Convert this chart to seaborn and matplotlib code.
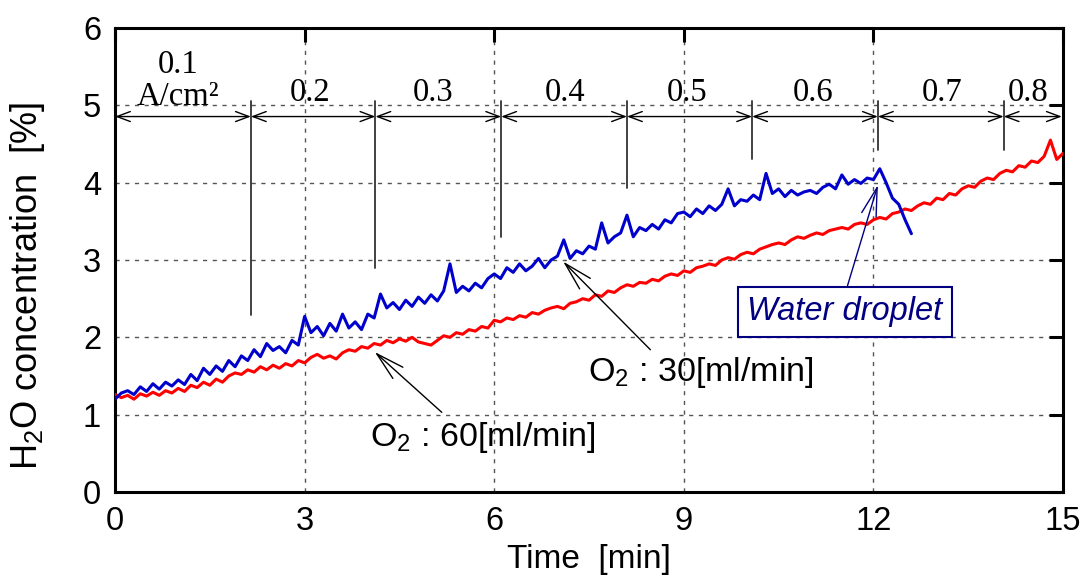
import numpy as np
import pandas as pd
import matplotlib
matplotlib.use("Agg")
import matplotlib.pyplot as plt
import seaborn as sns

o2_30 = [1.20, 1.28, 1.31, 1.26, 1.36, 1.30, 1.40, 1.33, 1.42, 1.37,
         1.45, 1.39, 1.52, 1.44, 1.60, 1.52, 1.63, 1.56, 1.70, 1.62,
         1.76, 1.70, 1.84, 1.75, 1.92, 1.83, 1.88, 1.80, 1.96, 1.90,
         2.27, 2.06, 2.14, 2.02, 2.18, 2.08, 2.30, 2.12, 2.20, 2.10,
         2.30, 2.25, 2.56, 2.38, 2.45, 2.36, 2.48, 2.40, 2.52, 2.44,
         2.55, 2.47, 2.60, 2.95, 2.58, 2.66, 2.60, 2.70, 2.64, 2.76,
         2.82, 2.76, 2.90, 2.84, 2.95, 2.86, 2.92, 3.02, 2.90, 3.00,
         3.05, 3.26, 3.02, 3.12, 3.08, 3.18, 3.14, 3.48, 3.22, 3.30,
         3.35, 3.58, 3.30, 3.42, 3.38, 3.46, 3.40, 3.52, 3.48, 3.60,
         3.62, 3.56, 3.66, 3.60, 3.70, 3.64, 3.72, 3.92, 3.70, 3.78,
         3.76, 3.84, 3.78, 4.12, 3.86, 3.92, 3.82, 3.90, 3.84, 3.88,
         3.90, 3.86, 3.94, 3.98, 3.92, 4.10, 3.98, 4.04, 3.99, 4.06,
         4.04, 4.18, 4.00, 3.80, 3.72, 3.52, 3.34]

o2_60 = [1.26, 1.22, 1.25, 1.20, 1.27, 1.24, 1.29, 1.25, 1.31, 1.28,
         1.34, 1.30, 1.38, 1.35, 1.42, 1.38, 1.46, 1.42, 1.50, 1.54,
         1.52, 1.58, 1.55, 1.62, 1.58, 1.64, 1.60, 1.66, 1.63, 1.70,
         1.67, 1.74, 1.78, 1.73, 1.76, 1.72, 1.80, 1.84, 1.82, 1.88,
         1.86, 1.92, 1.90, 1.96, 1.93, 1.98, 1.95, 2.00, 1.94, 1.92,
         1.90, 1.96, 2.02, 2.00, 2.06, 2.04, 2.10, 2.08, 2.14, 2.12,
         2.22, 2.20, 2.25, 2.23, 2.28, 2.26, 2.32, 2.30, 2.35, 2.38,
         2.40, 2.37, 2.44, 2.46, 2.50, 2.48, 2.55, 2.53, 2.60, 2.58,
         2.64, 2.68, 2.66, 2.71, 2.70, 2.75, 2.73, 2.79, 2.82, 2.80,
         2.86, 2.84, 2.90, 2.92, 2.95, 2.93, 3.00, 3.03, 3.01, 3.07,
         3.10, 3.08, 3.14, 3.17, 3.20, 3.22, 3.20, 3.26, 3.30, 3.28,
         3.32, 3.35, 3.33, 3.38, 3.40, 3.42, 3.40, 3.46, 3.48, 3.46,
         3.52, 3.55, 3.53, 3.60, 3.62, 3.66, 3.64, 3.70, 3.74, 3.72,
         3.80, 3.78, 3.86, 3.84, 3.92, 3.96, 3.94, 4.02, 4.06, 4.04,
         4.12, 4.16, 4.14, 4.22, 4.20, 4.28, 4.26, 4.34, 4.55, 4.30,
         4.38]

# current density steps [A/cm2] and their switching times [min]
step_edges = [0, 2.15, 4.12, 6.11, 8.10, 10.08, 12.07, 14.06, 14.98]
step_labels = ["0.2", "0.3", "0.4", "0.5", "0.6", "0.7", "0.8"]
step_label_x = [3.09, 5.04, 7.12, 9.05, 11.05, 13.08, 14.45]
marker_bottom = [2.29, 2.90, 3.30, 3.93, 4.30, 4.42, 4.42]

t30 = np.round(np.arange(len(o2_30)) * 0.1, 2)
t60 = np.round(np.arange(len(o2_60)) * 0.1, 2)
df30 = pd.DataFrame({"time": t30, "h2o": o2_30})
df60 = pd.DataFrame({"time": t60, "h2o": o2_60})

sns.set_theme(style="white")
plt.rcParams["font.family"] = ["Liberation Sans", "DejaVu Sans"]
plt.rcParams["mathtext.fontset"] = "custom"
plt.rcParams["mathtext.rm"] = "Liberation Sans"
plt.rcParams["mathtext.it"] = "Liberation Sans:italic"
plt.rcParams["axes.labelcolor"] = "black"
plt.rcParams["text.color"] = "black"

fig = plt.figure(figsize=(10.87, 5.81), dpi=100)
ax = fig.add_axes([0.1058, 0.1532, 0.8722, 0.7986])

sns.lineplot(data=df60, x="time", y="h2o", color="#ff0000", lw=2.2, ax=ax, zorder=3)
sns.lineplot(data=df30, x="time", y="h2o", color="#0000cc", lw=2.2, ax=ax, zorder=4)

ax.set_xlim(0, 15)
ax.set_ylim(0, 6)
ax.set_xticks([0, 3, 6, 9, 12, 15])
ax.set_yticks([0, 1, 2, 3, 4, 5, 6])
ax.grid(True, ls=(0, (3, 4)), color="#555555", lw=1)
ax.set_axisbelow(True)
for s in ax.spines.values():
    s.set_linewidth(2.2)
    s.set_color("black")
ax.tick_params(direction="in", length=10, width=2.2, labelsize=23.5,
               top=True, right=True, pad=10, colors="black")

ax.set_xlabel("Time  [min]", fontsize=24, labelpad=5, color="black")
ax.set_ylabel(r"H$_2$O concentration  [%]", fontsize=26, color="black")
ax.yaxis.set_label_coords(-0.072, 0.444)

# current step arrows
y_arr = 4.855
for a, b in zip(step_edges[:-1], step_edges[1:]):
    ax.annotate("", xy=(b, y_arr), xytext=(a, y_arr),
                arrowprops=dict(arrowstyle="<->,head_length=0.8,head_width=0.3",
                                lw=1, color="black", shrinkA=0, shrinkB=0))
for x0, yb in zip(step_edges[1:-1], marker_bottom):
    ax.plot([x0, x0], [yb, 5.06], color="#333333", lw=1.3, zorder=5)

serif = ["Liberation Serif", "DejaVu Serif"]
ax.text(1.0, 5.42, "0.1", family=serif, fontsize=23.5, ha="center", va="baseline")
ax.text(1.0, 5.0, "A/cm²", family=serif, fontsize=23.5, ha="center", va="baseline")
for lab, lx in zip(step_labels, step_label_x):
    ax.text(lx, 5.05, lab, family=serif, fontsize=23.5, ha="center", va="baseline")

# annotations
arrow_kw = dict(arrowstyle="->,head_length=1.7,head_width=0.45", lw=1,
                color="black", shrinkA=0, shrinkB=0)
ax.annotate("", xy=(7.09, 2.98), xytext=(8.47, 1.84), arrowprops=arrow_kw)
ax.text(7.48, 1.55, r"O$_2$ : 30[ml/min]", fontsize=24.5, ha="left", va="center")
ax.annotate("", xy=(4.11, 1.81), xytext=(5.17, 1.03), arrowprops=arrow_kw)
ax.text(4.03, 0.71, r"O$_2$ : 60[ml/min]", fontsize=24.5, ha="left", va="center")

ax.annotate("", xy=(12.07, 3.97), xytext=(11.59, 2.67),
            arrowprops=dict(arrow_kw, color="#000080"))
ax.text(11.55, 2.33, "Water droplet", fontsize=23.5, style="italic",
        color="#000080", ha="center", va="center", zorder=6,
        bbox=dict(boxstyle="square,pad=0.3", fc="white", ec="#000080", lw=1.5))

fig.savefig("out.png", dpi=100)
